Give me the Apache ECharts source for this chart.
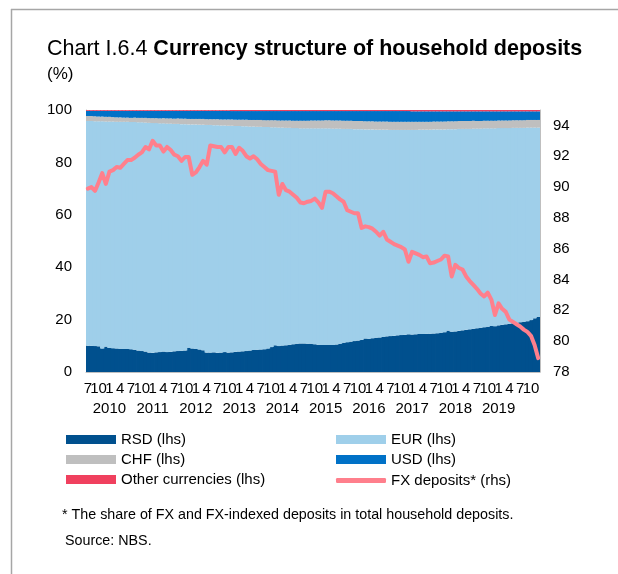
<!DOCTYPE html>
<html>
<head>
<meta charset="utf-8">
<script src="https://cdn.jsdelivr.net/npm/echarts/dist/echarts.min.js"></script>
<style>
  html, body { margin: 0; padding: 0; background: #fff; }
  #chart { width: 618px; height: 574px; }
</style>
</head>
<body>
<div id="chart"></div>
<script>
// Monthly categories, July 2009 - December 2019 ('YYYY-MM')
const months = [];
for (let y = 2009, m = 7; months.length < 126;) {
  months.push(y + '-' + String(m).padStart(2, '0'));
  if (++m > 12) { m = 1; y++; }
}

// Currency shares of household deposits, % (left axis)
const rsd = [
  10.0,10.0,9.9,9.8,9.0,9.7,9.2,9.1,9.0,8.9,8.8,8.8,
  8.7,8.5,8.2,8.0,7.8,7.4,7.3,7.5,7.6,7.8,7.6,7.7,
  7.9,8.0,8.1,8.2,9.3,9.0,8.8,8.6,8.3,7.4,7.4,7.5,
  7.3,7.4,7.6,7.4,7.5,7.7,7.8,7.9,8.0,8.2,8.4,8.5,
  8.6,8.7,9.0,9.5,10.2,9.9,10.1,10.2,10.4,10.6,10.8,10.9,
  10.9,10.8,10.8,10.6,10.4,10.3,10.3,10.3,10.3,10.5,10.8,11.2,
  11.4,11.6,11.8,12.0,12.3,12.8,12.7,12.9,13.1,13.2,13.4,13.6,
  13.7,13.8,14.0,14.1,14.2,14.4,14.3,14.4,14.5,14.5,14.6,14.6,
  14.7,14.8,15.0,15.2,15.8,15.4,15.5,15.7,15.9,16.1,16.3,16.5,
  16.7,16.9,17.1,17.3,17.6,17.5,17.8,18.0,18.2,18.4,18.6,18.8,
  19.0,19.2,19.4,19.8,20.5,21.1
];
const eur = [
  85.8,85.8,85.8,85.9,86.7,85.9,86.4,86.5,86.5,86.6,86.7,86.7,
  86.7,86.9,87.1,87.3,87.4,87.7,87.7,87.5,87.3,87.1,87.2,87.1,
  86.8,86.7,86.5,86.4,85.2,85.5,85.7,85.8,86.1,86.9,86.9,86.7,
  86.9,86.7,86.5,86.6,86.5,86.2,86.1,85.9,85.8,85.5,85.3,85.1,
  85.0,84.8,84.5,83.9,83.2,83.4,83.2,83.0,82.8,82.5,82.3,82.1,
  82.1,82.2,82.2,82.4,82.6,82.7,82.7,82.7,82.6,82.4,82.1,81.6,
  81.4,81.2,80.9,80.7,80.4,79.8,79.9,79.7,79.4,79.3,79.1,78.9,
  78.7,78.6,78.4,78.3,78.2,78.0,78.1,78.0,78.0,78.0,77.9,77.9,
  77.9,77.8,77.6,77.4,76.9,77.3,77.2,77.1,76.9,76.7,76.5,76.4,
  76.2,76.0,75.9,75.7,75.4,75.5,75.3,75.1,74.9,74.7,74.6,74.4,
  74.2,74.0,73.9,73.5,72.8,72.2
];
const chf = [
  1.9,1.9,1.9,1.8,1.8,1.8,1.8,1.7,1.7,1.7,1.6,1.6,
  1.6,1.7,1.7,1.7,1.8,1.8,1.9,1.9,1.9,2.0,2.0,2.0,
  2.0,2.1,2.1,2.1,2.1,2.1,2.1,2.2,2.2,2.2,2.2,2.3,
  2.3,2.3,2.3,2.4,2.4,2.4,2.4,2.5,2.5,2.5,2.5,2.6,
  2.6,2.6,2.6,2.7,2.7,2.7,2.7,2.8,2.8,2.8,2.8,2.9,
  2.9,2.9,3.0,3.0,3.0,3.0,3.1,3.1,3.1,3.1,3.1,3.1,
  3.1,3.1,3.1,3.1,3.1,3.1,3.1,3.1,3.1,3.1,3.1,3.1,
  3.1,3.1,3.1,3.1,3.1,3.1,3.1,3.1,3.0,3.0,3.0,3.0,
  3.0,3.0,3.0,3.0,3.0,3.0,3.0,3.0,3.0,3.0,3.0,3.0,
  2.9,2.9,2.9,2.9,2.9,2.9,2.9,2.9,2.9,2.9,2.9,2.9,
  2.9,2.9,2.9,2.9,2.9,2.9
];
const usd = [
  2.0,2.0,2.1,2.2,2.2,2.3,2.3,2.4,2.5,2.5,2.6,2.6,
  2.7,2.6,2.7,2.7,2.7,2.8,2.8,2.8,2.9,2.8,2.9,2.9,
  3.0,2.9,3.0,3.0,3.1,3.1,3.1,3.1,3.1,3.2,3.2,3.2,
  3.2,3.3,3.3,3.3,3.2,3.3,3.3,3.3,3.3,3.4,3.4,3.4,
  3.4,3.5,3.5,3.5,3.5,3.6,3.6,3.6,3.6,3.7,3.7,3.7,
  3.7,3.7,3.6,3.6,3.6,3.6,3.5,3.5,3.6,3.6,3.6,3.7,
  3.7,3.7,3.8,3.8,3.8,3.9,3.9,3.9,4.0,4.0,4.0,4.0,
  4.1,4.1,4.1,4.1,4.1,4.1,4.0,4.0,4.0,4.0,4.0,4.0,
  3.9,3.9,3.9,3.9,3.8,3.8,3.8,3.7,3.7,3.7,3.7,3.6,
  3.7,3.7,3.6,3.6,3.6,3.6,3.5,3.5,3.5,3.5,3.4,3.4,
  3.4,3.4,3.3,3.3,3.3,3.3
];
const other = [
  0.3,0.3,0.3,0.3,0.3,0.3,0.3,0.3,0.3,0.3,0.3,0.3,
  0.3,0.3,0.3,0.3,0.3,0.3,0.3,0.3,0.3,0.3,0.3,0.3,
  0.3,0.3,0.3,0.3,0.3,0.3,0.3,0.3,0.3,0.3,0.3,0.3,
  0.3,0.3,0.3,0.3,0.4,0.4,0.4,0.4,0.4,0.4,0.4,0.4,
  0.4,0.4,0.4,0.4,0.4,0.4,0.4,0.4,0.4,0.4,0.4,0.4,
  0.4,0.4,0.4,0.4,0.4,0.4,0.4,0.4,0.4,0.4,0.4,0.4,
  0.4,0.4,0.4,0.4,0.4,0.4,0.4,0.4,0.4,0.4,0.4,0.4,
  0.4,0.4,0.4,0.4,0.4,0.4,0.5,0.5,0.5,0.5,0.5,0.5,
  0.5,0.5,0.5,0.5,0.5,0.5,0.5,0.5,0.5,0.5,0.5,0.5,
  0.5,0.5,0.5,0.5,0.5,0.5,0.5,0.5,0.5,0.5,0.5,0.5,
  0.5,0.5,0.5,0.5,0.5,0.5
];

// Share of FX and FX-indexed deposits in total household deposits, % (right axis)
const fxDeposits = [
  89.9,90.0,89.75,90.3,90.9,90.2,91.0,91.1,91.3,91.25,91.5,91.75,
  91.75,91.9,92.1,92.25,92.6,92.45,93.0,92.7,92.7,92.3,92.6,92.4,
  92.1,92.0,91.7,91.95,91.95,90.8,90.95,91.3,91.7,91.45,92.7,92.65,
  92.6,92.6,92.25,92.6,92.6,92.15,92.55,92.35,92.0,91.85,92.0,91.8,
  91.5,91.3,91.1,91.05,91.0,89.5,90.2,89.8,89.7,89.5,89.3,89.0,
  88.95,89.05,89.1,89.25,89.0,88.65,89.7,89.7,89.6,89.4,89.2,89.05,
  88.5,88.4,88.3,88.3,87.35,87.45,87.4,87.3,87.1,86.85,87.1,86.6,
  86.45,86.3,86.2,86.1,85.95,85.15,85.8,85.7,85.6,85.45,85.5,85.05,
  85.1,85.2,85.3,85.55,85.5,84.2,84.95,84.75,84.65,84.2,83.9,83.65,
  83.4,83.1,82.9,83.15,82.7,81.7,82.45,82.1,81.9,81.4,81.25,81.1,
  80.95,80.75,80.6,80.35,79.75,78.9
];

const seriesNames = ['RSD (lhs)', 'EUR (lhs)', 'CHF (lhs)', 'USD (lhs)', 'Other currencies (lhs)', 'FX deposits* (rhs)'];
const colors = ['#00508e', '#9fcfea', '#bfbfbf', '#0071c7', '#f0405e', '#ff7f8c'];

const FONT = 'Arial, "Liberation Sans", sans-serif';
const AXIS_GREY = '#bfbfbf';

// Quarterly month numbers, with the year under each January
function monthLabel(v) {
  const parts = v.split('-');
  const m = Number(parts[1]);
  if (m === 12) return '';
  return m === 1 ? m + '\n' + parts[0] : String(m);
}
const monthLabelStyle = { margin: 7, fontFamily: FONT, fontSize: 15, lineHeight: 20, color: '#000' };

// Monthly columns are drawn slightly wider than their band so that
// neighbouring columns overlap and read as one continuous area.
function stackBar(name, data, color) {
  return {
    name: name, type: 'bar', stack: 'currency', data: data,
    barWidth: 4.4, barGap: '-100%',
    itemStyle: { color: color },
    emphasis: { disabled: true }
  };
}

const legendText = { fontFamily: FONT, fontSize: 15, color: '#000' };

const chart = echarts.init(document.getElementById('chart'), null, { renderer: 'canvas' });

chart.setOption({
  animation: false,
  textStyle: { fontFamily: FONT },
  title: [{
    left: 47, top: 38, padding: 0,
    text: '{n|Chart I.6.4 }{b|Currency structure of household deposits}',
    textStyle: {
      rich: {
        n: { fontFamily: FONT, fontSize: 21.5, fontWeight: 'normal', color: '#000' },
        b: { fontFamily: FONT, fontSize: 21.5, fontWeight: 'bold', color: '#000' }
      }
    }
  }, {
    left: 47, top: 66, padding: 0,
    text: '(%)',
    textStyle: { fontFamily: FONT, fontSize: 17, fontWeight: 'normal', color: '#000' }
  }],
  legend: [{
    orient: 'vertical', left: 66, top: 432, padding: 0,
    itemWidth: 50, itemHeight: 9, itemGap: 5, icon: 'rect',
    textStyle: legendText,
    data: ['RSD (lhs)', 'CHF (lhs)', 'Other currencies (lhs)'],
    selectedMode: false
  }, {
    orient: 'vertical', left: 336, top: 432, padding: 0,
    itemWidth: 50, itemHeight: 9, itemGap: 5, icon: 'rect',
    textStyle: legendText,
    data: ['EUR (lhs)', 'USD (lhs)'],
    selectedMode: false
  }, {
    orient: 'vertical', left: 336, top: 473, padding: 0,
    itemWidth: 50, itemHeight: 5, icon: 'roundRect',
    textStyle: legendText,
    data: ['FX deposits* (rhs)'],
    selectedMode: false
  }],
  grid: { left: 86, right: 78, top: 110, bottom: 202, containLabel: false },
  xAxis: [{
    type: 'category', data: months, boundaryGap: true, position: 'bottom',
    axisTick: { show: false },
    axisLine: { show: true, lineStyle: { color: AXIS_GREY, width: 1 } },
    axisLabel: Object.assign({
      interval: 2, showMinLabel: false, showMaxLabel: true, formatter: monthLabel
    }, monthLabelStyle),
    splitLine: { show: false }
  }, {
    // carries the label of the first month, kept apart from the tightly packed row
    type: 'category', data: months, boundaryGap: true, position: 'bottom',
    axisTick: { show: false },
    axisLine: { show: false },
    axisLabel: Object.assign({
      interval: function (index) { return index === 0; }, formatter: monthLabel
    }, monthLabelStyle),
    splitLine: { show: false }
  }],
  yAxis: [{
    type: 'value', min: 0, max: 100, interval: 20,
    axisLine: { show: true, lineStyle: { color: AXIS_GREY, width: 1 } },
    axisTick: { show: false },
    splitLine: { show: false },
    axisLabel: { margin: 14, fontFamily: FONT, fontSize: 15, color: '#000' }
  }, {
    type: 'value', min: 78, max: 95, interval: 2, position: 'right',
    axisLine: { show: true, lineStyle: { color: AXIS_GREY, width: 1 } },
    axisTick: { show: false },
    splitLine: { show: false },
    axisLabel: { margin: 13, fontFamily: FONT, fontSize: 15, color: '#000', showMaxLabel: false }
  }],
  series: [
    stackBar(seriesNames[0], rsd, colors[0]),
    stackBar(seriesNames[1], eur, colors[1]),
    stackBar(seriesNames[2], chf, colors[2]),
    stackBar(seriesNames[3], usd, colors[3]),
    stackBar(seriesNames[4], other, colors[4]),
    {
      name: seriesNames[5], type: 'line', yAxisIndex: 1, data: fxDeposits,
      symbol: 'none', showSymbol: false, smooth: false,
      lineStyle: { color: colors[5], width: 4, cap: 'round', join: 'round' },
      itemStyle: { color: colors[5] },
      emphasis: { disabled: true }
    }
  ],
  graphic: [
    // outer frame (top and left edges)
    { type: 'line', silent: true, shape: { x1: 11, y1: 9.5, x2: 618, y2: 9.5 }, style: { stroke: '#a6a6a6', lineWidth: 1.5 } },
    { type: 'line', silent: true, shape: { x1: 11.5, y1: 9, x2: 11.5, y2: 574 }, style: { stroke: '#a6a6a6', lineWidth: 1.5 } },
    // footnotes
    { type: 'text', silent: true, left: 62, top: 508,
      style: { text: '* The share of FX and FX-indexed deposits in total household deposits.', font: '14.3px ' + FONT, fill: '#000' } },
    { type: 'text', silent: true, left: 65, top: 534,
      style: { text: 'Source: NBS.', font: '14.3px ' + FONT, fill: '#000' } }
  ]
});
</script>
</body>
</html>
